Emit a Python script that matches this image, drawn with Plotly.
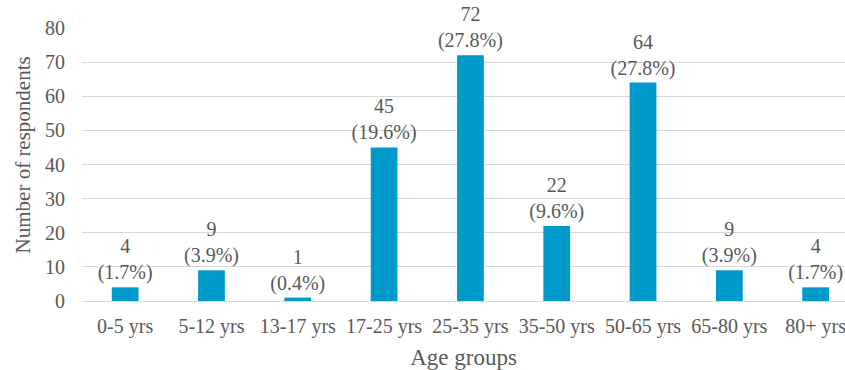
import plotly.graph_objects as go

categories = ["0-5 yrs", "5-12 yrs", "13-17 yrs", "17-25 yrs", "25-35 yrs",
              "35-50 yrs", "50-65 yrs", "65-80 yrs", "80+ yrs"]
counts = [4, 9, 1, 45, 72, 22, 64, 9, 4]
percents = ["1.7%", "3.9%", "0.4%", "19.6%", "27.8%", "9.6%", "27.8%", "3.9%", "1.7%"]
y_ticks = [0, 10, 20, 30, 40, 50, 60, 70, 80]

labels = [f"{c}<br>({p})" for c, p in zip(counts, percents)]

FONT = "Times New Roman, Liberation Serif, serif"
GREY = "#595959"

fig = go.Figure(go.Bar(
    x=categories, y=counts, text=labels, textposition="outside",
    constraintext="none", cliponaxis=False,
    marker=dict(color="#0099CC", line=dict(width=0)),
    outsidetextfont=dict(family=FONT, size=20, color=GREY),
))

fig.update_layout(
    width=845, height=370,
    margin=dict(l=82, r=0, t=28, b=69),
    paper_bgcolor="white", plot_bgcolor="white",
    bargap=0.69, showlegend=False,
    font=dict(family=FONT, size=20, color=GREY),
    annotations=[dict(
        text="Number of respondents", textangle=-90, showarrow=False,
        xref="paper", yref="paper", x=-0.078, y=0.535,
        xanchor="center", yanchor="middle",
        font=dict(family=FONT, size=21, color=GREY),
    )],
)
fig.update_xaxes(
    range=[-0.5, 8.34], showgrid=False, zeroline=False,
    ticks="outside", ticklen=7, tickcolor="rgba(0,0,0,0)",
    tickfont=dict(family=FONT, size=20, color=GREY),
    title=dict(text="Age groups", font=dict(family=FONT, size=23, color=GREY), standoff=15),
)
fig.update_yaxes(
    range=[0, 80], tickvals=y_ticks, showgrid=True, gridcolor="#D9D9D9", gridwidth=1,
    zeroline=True, zerolinecolor="#D9D9D9", zerolinewidth=1,
    ticks="outside", ticklen=12, tickcolor="rgba(0,0,0,0)",
    tickfont=dict(family=FONT, size=20, color=GREY),
)

fig.write_html("out.html")
